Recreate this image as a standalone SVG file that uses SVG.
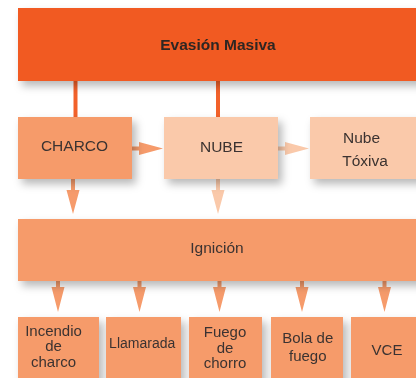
<svg xmlns="http://www.w3.org/2000/svg" width="416" height="378" viewBox="0 0 416 378">
<defs>
<filter id="sh" x="-20%" y="-20%" width="150%" height="160%">
<feDropShadow dx="4" dy="5" stdDeviation="4" flood-color="#000" flood-opacity="0.28"/>
</filter>
</defs>
<style>
.t{font-family:"Liberation Sans",Arial,sans-serif;fill:#3b3330;text-anchor:middle}
.b{font-size:15.5px}
.s{font-size:15px}
.top{fill:#f15a22}
.mid{fill:#f69b6b}
.lt{fill:#fac9aa}
.ln{stroke:#f2612a;stroke-width:4;fill:none}
.am{fill:#f69b6b}
.al{fill:#fac9aa}
</style>
<rect width="416" height="378" fill="#fff"/>
<g id="connectors">
<line class="ln" x1="75.5" y1="80" x2="75.5" y2="118"/>
<line class="ln" x1="218" y1="80" x2="218" y2="118"/>
<path class="am" d="M132 146.5H139V142L163 148.5L139 155V150.5H132Z"/>
<path class="al" d="M278 146.5H285V142L309 148.5L285 155V150.5H278Z"/>
<path class="am" d="M71 179V190H66.5L73 214L79.5 190H75V179Z"/>
<path class="al" d="M216 179V190H211.5L218 214L224.5 190H220V179Z"/>
<path class="am" d="M56 281V287H51.5L58 312L64.5 287H60V281Z"/>
<path class="am" d="M137.5 281V287H133L139.5 312L146 287H141.5V281Z"/>
<path class="am" d="M217.5 281V287H213L219.5 312L226 287H221.5V281Z"/>
<path class="am" d="M300 281V287H295.5L302 312L308.5 287H304V281Z"/>
<path class="am" d="M382.5 281V287H378L384.5 312L391 287H386.5V281Z"/>
</g>
<g id="evasion" filter="url(#sh)">
<rect class="top" x="18" y="8" width="410" height="73"/>
<text class="t" x="218" y="50" font-size="15.5" font-weight="bold" style="fill:#2e2622">Evasión Masiva</text>
</g>
<g id="charco" filter="url(#sh)">
<rect class="mid" x="18" y="117" width="114" height="62"/>
<text class="t b" x="74.5" y="151">CHARCO</text>
</g>
<g id="nube" filter="url(#sh)">
<rect class="lt" x="164" y="117" width="114" height="62"/>
<text class="t b" x="221.5" y="152">NUBE</text>
</g>
<g id="nube-toxiva" filter="url(#sh)">
<rect class="lt" x="310" y="117" width="114" height="62"/>
<text class="t b" x="361.5" y="143">Nube</text>
<text class="t b" x="365" y="166">Tóxiva</text>
</g>
<g id="ignicion" filter="url(#sh)">
<rect class="mid" x="18" y="219" width="410" height="62"/>
<text class="t b" x="217" y="253">Ignición</text>
</g>
<g id="incendio" filter="url(#sh)">
<rect class="mid" x="18" y="317" width="81" height="70"/>
<text class="t s" x="53.5" y="335.5">Incendio</text>
<text class="t s" x="53.5" y="351">de</text>
<text class="t s" x="53.5" y="367">charco</text>
</g>
<g id="llamarada" filter="url(#sh)">
<rect class="mid" x="106" y="317" width="75" height="70"/>
<text class="t" x="142.2" y="348.3" font-size="14">Llamarada</text>
</g>
<g id="fuego-chorro" filter="url(#sh)">
<rect class="mid" x="189" y="317" width="73" height="70"/>
<text class="t s" x="225" y="337.3">Fuego</text>
<text class="t s" x="225" y="352.7">de</text>
<text class="t s" x="225" y="368.3">chorro</text>
</g>
<g id="bola-fuego" filter="url(#sh)">
<rect class="mid" x="271" y="317" width="72" height="70"/>
<text class="t s" x="307.8" y="342.7">Bola de</text>
<text class="t s" x="307.8" y="360.7">fuego</text>
</g>
<g id="vce" filter="url(#sh)">
<rect class="mid" x="351" y="317" width="80" height="70"/>
<text class="t s" x="387" y="355">VCE</text>
</g>
</svg>
